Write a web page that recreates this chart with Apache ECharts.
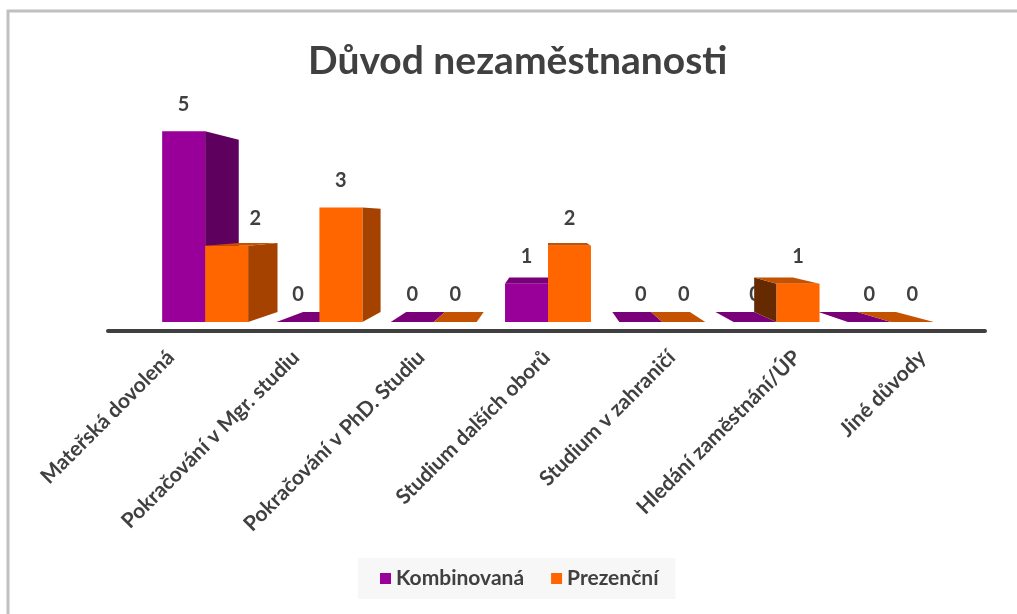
<!DOCTYPE html>
<html>
<head>
<meta charset="utf-8">
<script src="https://cdn.jsdelivr.net/npm/echarts@6/dist/echarts.min.js"></script>
<style>
  html, body { margin: 0; padding: 0; background: #fff; overflow: hidden; }
  #chart { width: 1017px; height: 614px; }
</style>
</head>
<body>
<div id="chart"></div>
<script>
// data
const categories = [
  'Mateřská dovolená',
  'Pokračování v Mgr. studiu',
  'Pokračování v PhD. Studiu',
  'Studium dalších oborů',
  'Studium v zahraničí',
  'Hledání zaměstnání/ÚP',
  'Jiné důvody'
]
const kombinovana = [5, 0, 0, 1, 0, 0, 0]
const prezencni = [2, 3, 0, 2, 0, 1, 0]

const textColor = '#404040'
const fontFamily = 'Lato, "Noto Sans", sans-serif'

// colours of the faces of each pseudo 3D bar
const purple = { front: '#990099', right: '#5e005e', left: '#4a004a', top: '#7a007a' }
const orange = { front: '#ff6600', right: '#a54200', left: '#662a00', top: '#c45200' }

// perspective: every back edge moves this share of the way to the vanishing point
const depth = 0.098

const makeRender = (colors, side, other) => function (params, api) {
  const idx = api.value(0)
  const val = api.value(1)
  const base = api.coord([idx, 0])
  const top = api.coord([idx, val])
  const band = api.size([1, 0])[0]
  const w = band * 0.376
  const x0 = side < 0 ? base[0] - w : base[0]
  const x1 = x0 + w
  const yb = base[1]
  const yt = top[1]
  // vanishing point sits a bit right of the 4th category, a bit under value 3
  const vp = api.coord([3.05, 2.68])
  const bx = x => x + depth * (vp[0] - x)
  const by = y => y + depth * (vp[1] - y)

  const children = []
  if (val > 0 && x1 < vp[0]) {
    children.push({
      type: 'polygon',
      shape: { points: [[x1, yt], [bx(x1), by(yt)], [bx(x1), by(yb)], [x1, yb]] },
      style: { fill: colors.right }
    })
  }
  if (val > 0 && x0 > vp[0]) {
    children.push({
      type: 'polygon',
      shape: { points: [[x0, yt], [bx(x0), by(yt)], [bx(x0), by(yb)], [x0, yb]] },
      style: { fill: colors.left }
    })
  }
  if (by(yt) < yt) {
    children.push({
      type: 'polygon',
      shape: { points: [[x0, yt], [x1, yt], [bx(x1), by(yt)], [bx(x0), by(yt)]] },
      style: { fill: colors.top }
    })
  }
  if (val > 0) {
    children.push({
      type: 'rect',
      shape: { x: x0, y: yt, width: w, height: yb - yt },
      style: { fill: colors.front }
    })
  }
  // right bar's label moves off the taller left bar's side face
  let lx = (x0 + x1) / 2
  if (side > 0 && other[idx] > val) lx += band * 0.25
  children.push({
    type: 'text',
    style: {
      text: String(val),
      x: lx,
      y: yt - 27,
      align: 'center',
      verticalAlign: 'middle',
      fill: textColor,
      font: 'bold 20px ' + fontFamily
    }
  })
  return { type: 'group', children }
}

const chart = echarts.init(document.getElementById('chart'))

chart.setOption({
  animation: false,
  backgroundColor: '#fff',
  title: {
    text: 'Důvod nezaměstnanosti',
    left: 303,
    top: 37,
    textStyle: { color: textColor, fontSize: 39, fontWeight: 'bold', fontFamily }
  },
  legend: {
    left: 358,
    top: 558,
    padding: [10, 17, 10, 22],
    backgroundColor: '#f7f7f7',
    icon: 'rect',
    itemWidth: 11,
    itemHeight: 11,
    itemGap: 27,
    textStyle: { color: textColor, fontSize: 21, fontWeight: 'bold', fontFamily },
    data: ['Kombinovaná', 'Prezenční']
  },
  grid: [
    // bars
    { left: 148, right: 69, top: 93, bottom: 292 },
    // floor line and category labels, wider because of the perspective
    { left: 108, right: 32, top: 93, bottom: 283 }
  ],
  xAxis: [
    {
      type: 'category',
      gridIndex: 0,
      data: categories,
      show: false
    },
    {
      type: 'category',
      gridIndex: 1,
      data: categories,
      axisLine: { lineStyle: { color: textColor, width: 4, cap: 'round' } },
      axisTick: { show: false },
      axisLabel: {
        rotate: 45,
        margin: 23,
        interval: 0,
        color: textColor,
        fontSize: 21,
        fontWeight: 'bold',
        fontFamily
      }
    }
  ],
  yAxis: [
    { type: 'value', gridIndex: 0, min: 0, max: 6, show: false },
    { type: 'value', gridIndex: 1, min: 0, max: 6, show: false }
  ],
  series: [
    {
      name: 'Kombinovaná',
      type: 'custom',
      xAxisIndex: 0,
      yAxisIndex: 0,
      itemStyle: { color: purple.front },
      renderItem: makeRender(purple, -1, prezencni),
      data: kombinovana.map((v, i) => [i, v])
    },
    {
      name: 'Prezenční',
      type: 'custom',
      xAxisIndex: 0,
      yAxisIndex: 0,
      itemStyle: { color: orange.front },
      renderItem: makeRender(orange, 1, kombinovana),
      data: prezencni.map((v, i) => [i, v])
    }
  ],
  graphic: [
    {
      type: 'rect',
      z: -1,
      shape: { x: 8, y: 11, width: 1100, height: 700 },
      style: { fill: 'none', stroke: '#c0c0c0', lineWidth: 3 }
    }
  ]
})
</script>
</body>
</html>
